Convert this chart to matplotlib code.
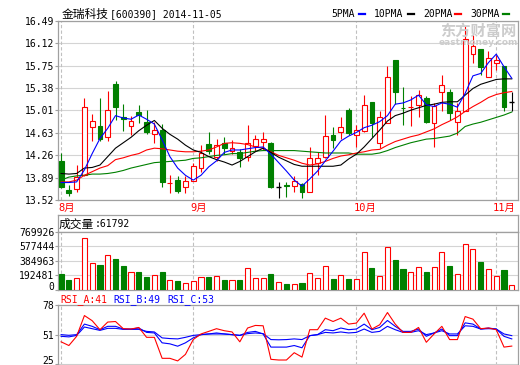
import matplotlib.pyplot as plt
from matplotlib.lines import Line2D
import numpy as np

plt.rcParams['font.family'] = ['DejaVu Sans Mono', 'Noto Sans CJK SC']
plt.rcParams['font.size'] = 7

# daily OHLC, 2014-08-07 .. 2014-11-05
opens = [14.16, 13.69, 13.70, 13.93, 14.73, 14.75, 14.56, 15.44, 14.89, 14.75,
         14.98, 14.81, 14.61, 14.68, 13.80, 13.85, 13.73, 13.84, 14.05, 14.45,
         14.23, 14.46, 14.34, 14.32, 14.23, 14.42, 14.48, 14.47, 13.74, 13.77,
         13.75, 13.78, 13.65, 14.14, 14.24, 14.60, 14.65, 15.01, 14.60, 14.67,
         15.15, 14.46, 14.79, 15.84, 15.05, 15.06, 15.10, 15.21, 14.79, 15.31,
         15.31, 14.82, 15.00, 15.95, 16.02, 15.56, 15.79, 15.74, 15.15]
highs = [14.30, 13.77, 14.10, 15.21, 14.95, 15.21, 15.33, 15.50, 15.12, 14.91,
         15.10, 15.02, 14.82, 14.78, 13.93, 13.91, 13.91, 14.13, 14.43, 14.64,
         14.54, 14.56, 14.52, 14.36, 14.76, 14.60, 14.65, 14.49, 13.82, 13.82,
         13.91, 13.81, 14.40, 14.31, 14.93, 14.73, 14.89, 15.04, 14.76, 15.26,
         15.15, 14.99, 15.74, 15.84, 15.40, 15.25, 15.35, 15.25, 15.13, 15.59,
         15.37, 15.13, 16.41, 16.26, 16.02, 16.00, 15.93, 15.74, 15.32]
lows = [13.72, 13.58, 13.66, 13.92, 14.50, 14.50, 14.50, 14.85, 14.67, 14.60,
        14.79, 14.62, 14.46, 13.74, 13.64, 13.64, 13.63, 13.84, 13.99, 14.28,
        14.16, 14.28, 14.28, 14.07, 14.17, 14.34, 14.35, 13.72, 13.56, 13.57,
        13.66, 13.56, 13.65, 13.93, 14.21, 14.38, 14.53, 14.60, 14.40, 14.65,
        14.56, 14.38, 14.79, 15.12, 14.76, 14.75, 14.90, 14.79, 14.40, 14.99,
        14.85, 14.60, 14.99, 15.80, 15.59, 15.56, 15.67, 14.99, 14.99]
closes = [13.74, 13.63, 13.90, 15.06, 14.83, 14.54, 15.01, 15.06, 14.86, 14.83,
          14.93, 14.65, 14.68, 13.82, 13.81, 13.67, 13.83, 14.08, 14.30, 14.34,
          14.43, 14.39, 14.39, 14.22, 14.46, 14.54, 14.53, 13.74, 13.74, 13.76,
          13.83, 13.66, 14.21, 14.21, 14.59, 14.52, 14.73, 14.63, 14.68, 15.09,
          14.79, 14.90, 15.56, 15.32, 15.04, 15.07, 15.27, 14.82, 15.08, 15.42,
          14.97, 14.99, 16.19, 16.08, 15.72, 15.87, 15.84, 15.06, 15.15]

ma5 = [13.81, 13.81, 13.82, 14.02, 14.29, 14.54, 14.71, 14.92, 14.88, 14.86,
       14.93, 14.86, 14.78, 14.52, 14.24, 14.05, 13.93, 13.85, 13.93, 14.07,
       14.17, 14.31, 14.35, 14.35, 14.37, 14.39, 14.40, 14.28, 14.14, 14.00,
       13.85, 13.75, 13.87, 14.00, 14.17, 14.33, 14.50, 14.58, 14.64, 14.72,
       14.76, 14.82, 14.92, 15.11, 15.13, 15.18, 15.26, 15.10, 15.07, 15.13,
       15.11, 15.06, 15.29, 15.58, 15.62, 15.80, 15.94, 15.73, 15.54]
ma10 = [13.96, 13.95, 13.96, 14.05, 14.06, 14.10, 14.24, 14.38, 14.47, 14.56,
        14.67, 14.76, 14.84, 14.71, 14.61, 14.53, 14.43, 14.35, 14.31, 14.24,
        14.19, 14.15, 14.10, 14.16, 14.24, 14.32, 14.38, 14.31, 14.23, 14.17,
        14.11, 14.08, 14.08, 14.08, 14.08, 14.08, 14.10, 14.20, 14.28, 14.40,
        14.54, 14.68, 14.83, 14.92, 14.96, 15.01, 15.05, 15.09, 15.11, 15.14,
        15.15, 15.15, 15.26, 15.37, 15.44, 15.48, 15.52, 15.53, 15.53]
ma20 = [13.82, 13.82, 13.85, 13.93, 13.99, 14.05, 14.09, 14.19, 14.22, 14.26,
        14.29, 14.35, 14.38, 14.37, 14.35, 14.33, 14.32, 14.32, 14.33, 14.35,
        14.40, 14.46, 14.47, 14.46, 14.44, 14.40, 14.38, 14.32, 14.26, 14.22,
        14.18, 14.13, 14.10, 14.12, 14.16, 14.21, 14.25, 14.27, 14.30, 14.32,
        14.35, 14.36, 14.43, 14.49, 14.53, 14.57, 14.60, 14.65, 14.70, 14.77,
        14.83, 14.90, 14.99, 15.07, 15.14, 15.22, 15.27, 15.30, 15.32]
ma30 = [13.85, 13.90, 13.92, 13.93, 13.95, 13.95, 13.96, 13.98, 14.01, 14.05,
        14.08, 14.11, 14.14, 14.15, 14.16, 14.17, 14.18, 14.21, 14.22, 14.24,
        14.26, 14.27, 14.29, 14.29, 14.31, 14.33, 14.34, 14.34, 14.34, 14.34,
        14.34, 14.33, 14.32, 14.31, 14.30, 14.30, 14.30, 14.30, 14.28, 14.28,
        14.28, 14.30, 14.34, 14.39, 14.43, 14.47, 14.50, 14.53, 14.54, 14.56,
        14.58, 14.63, 14.74, 14.78, 14.81, 14.85, 14.89, 14.93, 14.98]

volume = [205000, 125000, 148000, 685000, 350000, 327000, 456000, 407000, 313000, 228000,
          232000, 170000, 188000, 232000, 125000, 111000, 81000, 111000, 161000, 165000,
          175000, 125000, 125000, 125000, 282000, 148000, 148000, 205000, 94000, 71000,
          67000, 85000, 215000, 148000, 309000, 138000, 188000, 138000, 134000, 497000,
          286000, 175000, 564000, 394000, 272000, 228000, 295000, 232000, 295000, 497000,
          313000, 201000, 604000, 537000, 366000, 269000, 175000, 260000, 61792]

rsi_a = [45.2, 41.9, 50.1, 68.6, 64.0, 56.0, 62.8, 63.3, 56.9, 56.6,
         58.0, 49.2, 49.2, 30.5, 30.5, 28.2, 34.0, 47.2, 52.2, 54.5,
         56.9, 55.1, 54.0, 45.2, 57.5, 59.8, 59.5, 29.6, 29.0, 29.0,
         35.5, 31.6, 56.0, 56.0, 66.3, 63.3, 66.3, 61.0, 61.9, 70.7,
         56.6, 60.4, 71.3, 61.0, 53.6, 53.6, 58.0, 44.8, 52.2, 59.0,
         47.2, 47.2, 67.7, 65.4, 56.9, 57.5, 56.0, 40.5, 41.4]
rsi_b = [51.6, 51.0, 51.6, 61.0, 59.0, 56.0, 59.0, 59.0, 56.6, 56.6,
         57.5, 53.6, 53.1, 44.3, 43.4, 41.3, 44.3, 48.7, 51.6, 52.2,
         53.1, 52.2, 51.6, 51.0, 53.6, 54.5, 52.2, 40.5, 40.5, 40.5,
         41.9, 39.9, 50.7, 51.6, 56.0, 55.1, 57.5, 56.0, 56.6, 61.0,
         56.0, 58.0, 64.2, 59.0, 54.5, 54.5, 56.6, 50.1, 53.1, 56.6,
         50.7, 50.7, 62.1, 61.0, 56.6, 57.5, 56.6, 50.1, 47.8]
rsi_c = [50.1, 49.6, 50.9, 58.4, 56.9, 55.4, 57.2, 57.2, 56.3, 56.3,
         56.3, 54.5, 54.0, 48.7, 48.1, 47.8, 49.2, 50.9, 51.6, 52.2,
         52.2, 52.2, 51.6, 50.9, 52.5, 53.1, 52.5, 47.2, 47.0, 47.2,
         47.8, 47.2, 50.7, 51.6, 53.6, 53.1, 54.0, 53.1, 53.6, 56.6,
         53.6, 54.5, 59.0, 56.0, 53.6, 53.6, 55.1, 51.6, 53.1, 55.1,
         52.2, 52.2, 59.5, 59.0, 56.6, 56.9, 56.6, 52.2, 50.7]

month_pos = [0, 17, 38, 56]
month_labels = ['8月', '9月', '10月', '11月']
price_ticks = [13.52, 13.89, 14.26, 14.63, 15.01, 15.38, 15.75, 16.12, 16.49]
vol_ticks = [0, 192481, 384963, 577444, 769926]
rsi_ticks = [25, 51, 78]

RED = '#ff0000'
GREEN = '#008000'
BLUE = '#0000ff'
FRAME = '#a0a0a0'
GRID = '#d4d4d4'

W, H = 520, 365


def box(l, t, r, b):
    return [l / W, 1 - b / H, (r - l) / W, (b - t) / H]


def style(a):
    for s in a.spines.values():
        s.set_color(FRAME)
        s.set_linewidth(0.9)
    a.set_xlim(-0.4, 58.8)
    a.set_xticks([])
    a.tick_params(axis='y', length=2, width=0.8, color=FRAME, pad=0.8, labelsize=7)
    for m in month_pos:
        a.axvline(m, color='#c0c0c0', lw=0.8, dashes=(3, 2), zorder=1)


fig = plt.figure(figsize=(W / 100, H / 100), dpi=100)

# price panel
ax = fig.add_axes(box(58, 21, 518, 200))
style(ax)
ax.set_ylim(13.52, 16.49)
ax.set_yticks(price_ticks)
ax.set_yticklabels(['%.2f' % t for t in price_ticks])
ax.yaxis.grid(True, color=GRID, lw=0.8, zorder=0)
ax.set_axisbelow(True)

idx = np.arange(len(closes))
bw = 0.62
for i in idx:
    o, h, l, c = opens[i], highs[i], lows[i], closes[i]
    if c > o:
        col, fc = RED, 'white'
    elif c < o:
        col, fc = GREEN, GREEN
    else:
        col, fc = 'black', 'black'
    ax.vlines(i, l, h, color=col, lw=0.8, zorder=2)
    if c == o:
        ax.hlines(c, i - bw / 2, i + bw / 2, color=col, lw=1.0, zorder=3)
    else:
        ax.bar(i, abs(c - o), bottom=min(o, c), width=bw, facecolor=fc,
               edgecolor=col, lw=0.8, zorder=3)

ax.plot(idx, ma30, color=GREEN, lw=0.8, zorder=4)
ax.plot(idx, ma20, color=RED, lw=0.8, zorder=4)
ax.plot(idx, ma10, color='black', lw=0.8, zorder=4)
ax.plot(idx, ma5, color=BLUE, lw=0.8, zorder=4)

for m, lab in zip(month_pos, month_labels):
    ax.text(m - 0.4, -0.045, lab, transform=ax.get_xaxis_transform(),
            color=RED, fontsize=7.5, ha='left', va='center')

# watermark
fig.text(478 / W, 1 - 31 / H, '东方财富网', color='#cccccc', fontsize=11,
         fontweight='bold', family='Noto Sans CJK SC', ha='center', va='center')
fig.text(478 / W, 1 - 42.5 / H, 'eastmoney.com', color='#cccccc', fontsize=6.5,
         fontweight='bold', family='DejaVu Sans', ha='center', va='center')

# title and legend
ty = 1 - 14 / H
fig.text(62 / W, ty, '金瑞科技', family='Noto Sans CJK SC', fontsize=8.5, va='center')
fig.text(110 / W, ty, '[600390] 2014-11-05', fontsize=7, va='center')
legend = [('5PMA', 331.5, BLUE, 359), ('10PMA', 374, 'black', 408),
          ('20PMA', 423, RED, 455), ('30PMA', 470, GREEN, 503)]
for name, x0, col, dx in legend:
    fig.text(x0 / W, ty, name, fontsize=7, va='center')
    fig.add_artist(Line2D([dx / W, (dx + 5.5) / W], [ty, ty], color=col, lw=1.6))

# volume header
axh = fig.add_axes(box(58, 215, 518, 232))
for s in axh.spines.values():
    s.set_color(FRAME)
    s.set_linewidth(0.9)
axh.set_xticks([])
axh.set_yticks([])
fig.text(59 / W, 1 - 224 / H, '成交量', family='Noto Sans CJK SC', fontsize=8.5, va='center')
fig.text(95 / W, 1 - 224 / H, ':%d' % volume[-1], fontsize=7, va='center')

# volume panel
axv = fig.add_axes(box(58, 232, 518, 289.5))
style(axv)
axv.set_ylim(0, 769926)
axv.set_yticks(vol_ticks)
axv.set_yticklabels([str(v) for v in vol_ticks])
axv.yaxis.grid(True, color=GRID, lw=0.8, zorder=0)
axv.set_axisbelow(True)
axv.get_yticklabels()[0].set_va('baseline')
for i in idx:
    if closes[i] >= opens[i]:
        axv.bar(i, volume[i], width=0.66, facecolor='white', edgecolor=RED, lw=0.8, zorder=3)
    else:
        axv.bar(i, volume[i], width=0.66, facecolor=GREEN, edgecolor=GREEN, lw=0.8, zorder=3)

# RSI panel
axr = fig.add_axes(box(58, 305, 518, 364.5))
style(axr)
axr.set_ylim(25, 78)
axr.set_yticks(rsi_ticks)
axr.set_yticklabels([str(v) for v in rsi_ticks])
axr.yaxis.grid(True, color=GRID, lw=0.8, zorder=0)
axr.get_yticklabels()[0].set_va('baseline')
axr.plot(idx, rsi_c, color=BLUE, lw=0.8, zorder=3)
axr.plot(idx, rsi_b, color=BLUE, lw=0.8, zorder=3)
axr.plot(idx, rsi_a, color=RED, lw=0.8, zorder=4)

ry = 1 - 299.5 / H
fig.text(60 / W, ry, 'RSI_A:41', color=RED, fontsize=7, va='center')
fig.text(113 / W, ry, 'RSI_B:49', color=BLUE, fontsize=7, va='center')
fig.text(167 / W, ry, 'RSI_C:53', color=BLUE, fontsize=7, va='center')

fig.savefig('out.png', dpi=100, facecolor='white')
